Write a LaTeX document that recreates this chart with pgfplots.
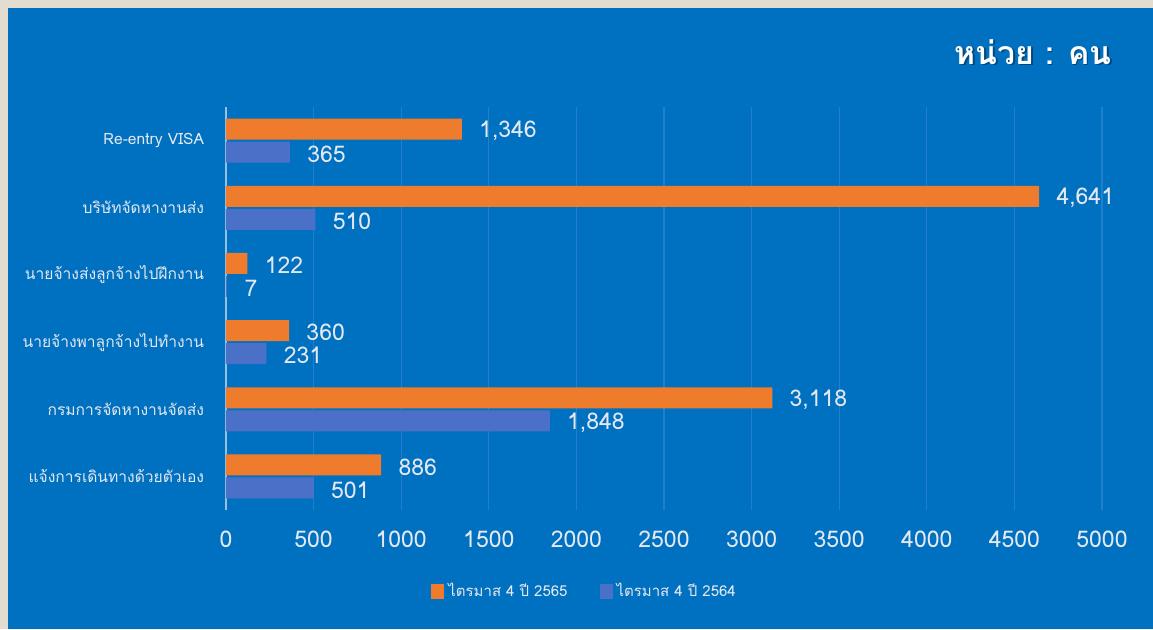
\documentclass[border=0pt]{standalone}
\usepackage{fontspec}
\usepackage{pgfplots}
\pgfplotsset{compat=1.18}
\setmainfont[Script=Thai]{Loma}

\definecolor{beige}{RGB}{226,221,208}
\definecolor{bgblue}{RGB}{0,112,192}
\definecolor{gridblue}{RGB}{34,128,202}
\definecolor{axisblue}{RGB}{150,192,228}
\definecolor{txt}{RGB}{228,232,240}
\definecolor{barorange}{RGB}{239,124,44}
\definecolor{barblue}{RGB}{74,112,200}

\begin{document}
\begin{tikzpicture}[x=1pt,y=1pt]
% background panel
\fill[beige] (0,0) rectangle (576.5,314.5);
\fill[bgblue] (4,0) rectangle (576.5,310.5);

\begin{axis}[
    at={(113pt,59.5pt)}, anchor=south west,
    scale only axis, width=438pt, height=201.5pt,
    xbar, bar width=10.5pt,
    xmin=0, xmax=5000, ymin=-0.5, ymax=5.5,
    xtick={0,500,...,5000},
    ytick={0,...,5},
    yticklabels={แจ้งการเดินทางด้วยตัวเอง, กรมการจัดหางานจัดส่ง, นายจ้างพาลูกจ้างไปทำงาน,
                 นายจ้างส่งลูกจ้างไปฝึกงาน, บริษัทจัดหางานส่ง, Re-entry VISA},
    /pgf/number format/assume math mode=true,
    xticklabel={\pgfmathprintnumber[1000 sep={}]{\tick}},
    xticklabel style={text=txt, inner sep=0pt, anchor=north, yshift=-10.5pt, font=\fontsize{11.5}{12}\selectfont},
    yticklabel style={text=txt, inner sep=0pt, anchor=east, xshift=-6.5pt, font=\fontsize{7.8}{9}\selectfont},
    axis line style={draw=none},
    tick style={draw=none},
    xmajorgrids, grid style={gridblue, line width=0.6pt},
    extra x ticks={0}, extra x tick labels={},
    extra x tick style={grid style={axisblue, line width=1.2pt}},
    point meta=x,
    nodes near coords={\pgfmathprintnumber[1000 sep={,}]{\pgfplotspointmeta}},
    every node near coord/.append style={anchor=west, inner sep=0pt, xshift=8.5pt, yshift=-1pt,
        text=txt, font=\fontsize{11.5}{12}\selectfont},
    legend columns=2,
    legend style={at={(0.4105,-0.201)}, anchor=center, draw=none, fill=none,
        text=txt, font=\fontsize{7.5}{8}\selectfont,
        /tikz/every even column/.append style={column sep=14pt}},
    legend image code/.code={\fill[#1] (0pt,-3.75pt) rectangle (6.5pt,3.75pt);},
]
\addplot[draw=none, fill=barorange, bar shift=5.75pt]
    coordinates {(886,0) (3118,1) (360,2) (122,3) (4641,4) (1346,5)};
\addplot[draw=none, fill=barblue, bar shift=-5.75pt]
    coordinates {(501,0) (1848,1) (231,2) (7,3) (510,4) (365,5)};
\legend{ไตรมาส 4 ปี 2565, ไตรมาส 4 ปี 2564}
\end{axis}

% unit note
\node[anchor=east, inner sep=0pt, text=black, opacity=0.35, font=\bfseries\fontsize{16}{19}\selectfont] at (556.8,287.8) {หน่วย : คน};
\node[anchor=east, inner sep=0pt, text=white, font=\bfseries\fontsize{16}{19}\selectfont] at (556,288.5) {หน่วย : คน};
\end{tikzpicture}
\end{document}
